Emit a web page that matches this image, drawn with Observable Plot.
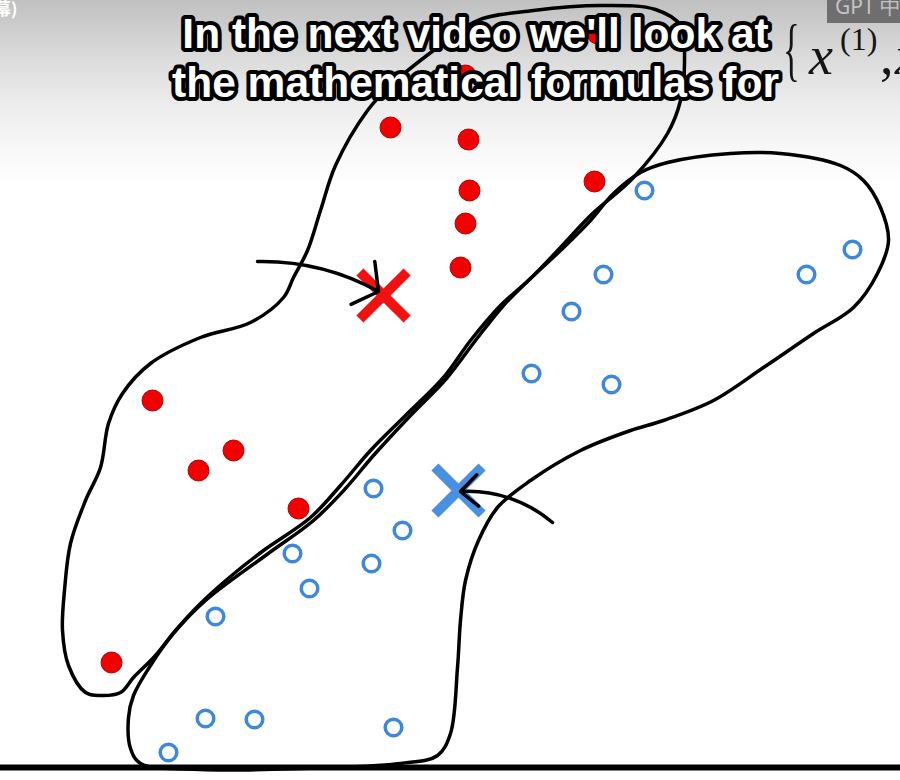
<!DOCTYPE html>
<html>
<head>
<meta charset="utf-8">
<script src="https://cdn.jsdelivr.net/npm/d3@7"></script>
<script src="https://cdn.jsdelivr.net/npm/@observablehq/plot@0.6"></script>
<style>
  html, body { margin: 0; padding: 0; }
  body { width: 900px; height: 780px; overflow: hidden; position: relative; background: #fff; }
  #chart svg { display: block; }
  .danmu { position: absolute; left: -6px; top: -5px; color: #fff; font: bold 17px "Noto Sans CJK SC"; }
  .tag { position: absolute; left: 827px; top: 0; width: 80px; height: 23px; overflow: hidden;
         background: #6e6e6e; color: #c4c4c4; font: 21px "Noto Sans"; line-height: 12px; padding-left: 8px; box-sizing: border-box; }
  .math { position: absolute; top: 0; left: 0; font-family: "Liberation Serif", serif; color: #151515; white-space: nowrap; }
  .math span { position: absolute; line-height: normal; }
</style>
</head>
<body>
<div id="chart"></div>
<div class="danmu">幕)</div>
<div class="tag">GPT 中</div>
<div class="math">
  <span style="left:783px; top:10px; font-size:70px; transform: scaleX(0.5); transform-origin: left;">{</span>
  <span style="left:809px; top:25px; font-size:54px; font-style:italic;">x</span>
  <span style="left:840px; top:21px; font-size:32px;">(1)</span>
  <span style="left:880px; top:25px; font-size:54px;">,</span>
  <span style="left:895px; top:25px; font-size:54px; font-style:italic;">x</span>
</div>
<script>
// k-means snapshot: two clusters, their centroids and the hand-drawn outlines.
// units: arbitrary feature space, x 0..9, y 0..7.7

const redX = [5.97, 4.65, 3.90, 4.68, 4.69, 4.65, 4.60, 5.94, 1.52, 2.33, 1.98, 2.98, 1.11];
const redY = [7.34, 6.92, 6.40, 6.28, 5.77, 5.44, 5.00, 5.86, 3.67, 3.17, 2.97, 2.59, 1.05];

const blueX = [6.44, 8.52, 8.06, 6.03, 5.71, 5.31, 6.11, 3.73, 4.02, 2.92, 3.71, 3.09, 2.15, 2.05, 2.54, 3.93, 1.68];
const blueY = [5.77, 5.18, 4.93, 4.93, 4.56, 3.94, 3.83, 2.79, 2.37, 2.14, 2.04, 1.79, 1.51, 0.49, 0.48, 0.40, 0.15];

const centroidCluster = ["red", "blue"];
const centroidX = [3.83, 4.58];
const centroidY = [4.72, 2.77];

// arrows pointing at the centroids
const arrowX1 = [2.57, 5.52];
const arrowY1 = [5.06, 2.45];
const arrowX2 = [3.78, 4.60];
const arrowY2 = [4.76, 2.76];

// hand-drawn cluster outlines
const redBlobX = [0.85, 0.68, 0.62, 0.64, 0.70, 0.85, 1.00, 1.08, 1.22, 1.50, 2.00, 2.50, 2.83, 2.93, 3.07, 3.20,
  3.35, 3.67, 3.90, 4.33, 4.77, 5.33, 6.00, 6.55, 6.80, 6.84, 6.80, 6.67, 6.33, 5.90, 5.60, 5.30, 5.00, 4.70, 4.43,
  4.05, 3.70, 3.40, 3.10, 2.63, 2.30, 2.00, 1.75, 1.55, 1.33, 1.20, 1.00];
const redBlobY = [0.75, 1.02, 1.37, 1.77, 2.24, 2.67, 3.00, 3.44, 3.74, 4.04, 4.30, 4.45, 4.70, 4.90, 5.17, 5.57,
  6.02, 6.57, 6.82, 7.17, 7.47, 7.57, 7.62, 7.58, 7.42, 7.07, 6.67, 6.34, 5.90, 5.52, 5.20, 4.89, 4.62, 4.27, 3.90,
  3.52, 3.17, 2.82, 2.50, 2.17, 1.91, 1.64, 1.37, 1.12, 0.90, 0.75, 0.72];

const blueBlobX = [1.40, 1.30, 1.28, 1.33, 1.50, 1.73, 2.05, 2.65, 3.13, 3.45, 3.73, 4.10, 4.46, 4.75, 5.03, 5.30,
  5.60, 5.90, 6.13, 6.40, 6.67, 7.30, 7.80, 8.40, 8.63, 8.80, 8.88, 8.77, 8.53, 8.13, 7.63, 7.13, 6.63, 6.30, 5.80,
  5.30, 4.97, 4.78, 4.65, 4.60, 4.57, 4.50, 4.37, 4.00, 3.00, 2.00];
const blueBlobY = [0.04, 0.19, 0.50, 0.72, 1.02, 1.34, 1.67, 2.12, 2.47, 2.79, 3.12, 3.52, 3.89, 4.27, 4.62, 4.89,
  5.17, 5.47, 5.74, 5.95, 6.05, 6.14, 6.14, 6.02, 5.87, 5.60, 5.27, 4.94, 4.60, 4.34, 4.00, 3.67, 3.47, 3.37, 3.17,
  2.87, 2.60, 2.27, 1.87, 1.47, 1.00, 0.34, 0.12, 0.04, -0.01, -0.02];

const subtitleLines = ["In the next video we'll look at", "the mathematical formulas for"];

const zip = (xs, ys) => xs.map((x, i) => ({x, y: ys[i]}));
const red = zip(redX, redY);
const blue = zip(blueX, blueY);
const redBlob = zip(redBlobX, redBlobY);
const blueBlob = zip(blueBlobX, blueBlobY);
const centroids = centroidCluster.map((c, i) => ({cluster: c, x: centroidX[i], y: centroidY[i]}));
const arrows = arrowX1.map((x1, i) => ({x1, y1: arrowY1[i], x2: arrowX2[i], y2: arrowY2[i]}));

const plot = Plot.plot({
  width: 900,
  height: 780,
  margin: 0,
  style: {
    background: "linear-gradient(to bottom, #c0c0c0 0px, #d8d8d8 50px, #ebebeb 100px, #f8f8f8 150px, #ffffff 185px)",
    overflow: "visible"
  },
  x: {domain: [0, 9], axis: null},
  y: {domain: [-0.13, 7.67], axis: null},
  marks: [
    Plot.ruleY([0], {stroke: "#000", strokeWidth: 6}),
    Plot.dot(red, {x: "x", y: "y", r: 10.5, fill: "#f20000", stroke: "#b40000", strokeWidth: 1}),
    Plot.dot(blue, {x: "x", y: "y", r: 8.3, fill: "none", stroke: "#3d88db", strokeWidth: 3.5}),
    Plot.dot(centroids.filter((d) => d.cluster === "red"), {
      x: "x", y: "y", symbol: "times", r: 21.5, stroke: "#f21010", strokeWidth: 10, strokeLinecap: "butt"
    }),
    Plot.dot(centroids.filter((d) => d.cluster === "blue"), {
      x: "x", y: "y", symbol: "times", r: 21.5, stroke: "#4a90e2", strokeWidth: 10, strokeLinecap: "butt"
    }),
    Plot.line(redBlob, {x: "x", y: "y", curve: "catmull-rom-closed", stroke: "#000", strokeWidth: 3.5}),
    Plot.line(blueBlob, {x: "x", y: "y", curve: "catmull-rom-closed", stroke: "#000", strokeWidth: 3.5}),
    Plot.arrow(arrows.slice(0, 1), {
      x1: "x1", y1: "y1", x2: "x2", y2: "y2", bend: 15, headLength: 13, headAngle: 108,
      stroke: "#000", strokeWidth: 3.5
    }),
    Plot.arrow(arrows.slice(1), {
      x1: "x1", y1: "y1", x2: "x2", y2: "y2", bend: -22, headLength: 10, headAngle: 85,
      stroke: "#000", strokeWidth: 3.5
    }),
    Plot.text([subtitleLines.join("\n")], {
      text: (d) => d, frameAnchor: "top", lineAnchor: "top", dx: 25, dy: 13,
      lineHeight: 1.15, fontSize: 42.5, fontWeight: "bold", fontFamily: "Liberation Sans",
      fill: "#fff", stroke: "#000", strokeWidth: 8, strokeLinejoin: "round"
    })
  ]
});

document.getElementById("chart").appendChild(plot);
</script>
</body>
</html>
